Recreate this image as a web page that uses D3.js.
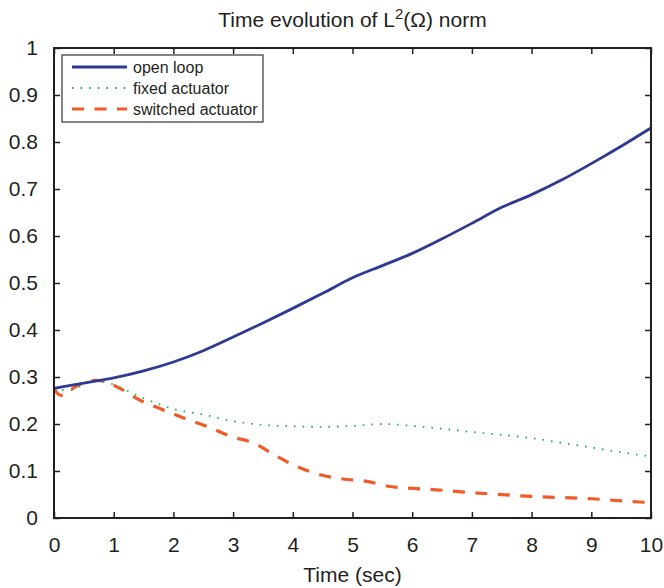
<!DOCTYPE html>
<html>
<head>
<meta charset="utf-8">
<script src="https://cdn.jsdelivr.net/npm/d3@7"></script>
<style>
  body { margin: 0; background: #fff; }
  text { font-family: "Liberation Sans", Arial, sans-serif; fill: #231f20; }
</style>
</head>
<body>
<svg id="chart" width="664" height="588"></svg>
<script>
// values
const openTime = [0, 0.5, 1, 1.5, 2, 2.5, 3, 3.5, 4, 4.5, 5, 5.5, 6, 6.5, 7, 7.5, 8, 8.5, 9, 9.5, 10]
const openLoop = [0.276, 0.287, 0.298, 0.313, 0.332, 0.356, 0.385, 0.415, 0.446, 0.478, 0.511, 0.537, 0.563, 0.594, 0.627, 0.661, 0.688, 0.719, 0.754, 0.791, 0.830]

const fixedTime = [0, 0.15, 0.3, 0.5, 0.7, 0.9, 1.2, 1.5, 2, 2.5, 3, 3.5, 4, 4.5, 5, 5.5, 6, 6.5, 7, 7.5, 8, 8.5, 9, 9.5, 10]
const fixedAct = [0.278, 0.272, 0.272, 0.285, 0.292, 0.288, 0.272, 0.255, 0.232, 0.220, 0.206, 0.198, 0.195, 0.194, 0.196, 0.200, 0.196, 0.190, 0.183, 0.177, 0.170, 0.160, 0.150, 0.140, 0.131]

const switchTime = [0, 0.05, 0.12, 0.2, 0.32, 0.5, 0.72, 0.9, 1.1, 1.45, 1.83, 2.17, 2.56, 3, 3.34, 3.67, 4.06, 4.46, 4.84, 5.24, 5.63, 6.01, 6.4, 7.1, 8, 9, 9.8, 10]
const switchAct = [0.276, 0.266, 0.261, 0.264, 0.276, 0.288, 0.293, 0.288, 0.276, 0.250, 0.230, 0.213, 0.195, 0.172, 0.160, 0.136, 0.110, 0.092, 0.083, 0.078, 0.067, 0.063, 0.060, 0.053, 0.046, 0.041, 0.034, 0.033]

const xTicks = [0, 1, 2, 3, 4, 5, 6, 7, 8, 9, 10]
const yTicks = [0, 0.1, 0.2, 0.3, 0.4, 0.5, 0.6, 0.7, 0.8, 0.9, 1]
const seriesNames = ['open loop', 'fixed actuator', 'switched actuator']

const plotL = 54, plotR = 651, plotT = 48, plotB = 518
const svg = d3.select('#chart')

const x = d3.scaleLinear().domain([0, 10]).range([plotL, plotR])
const y = d3.scaleLinear().domain([0, 1]).range([plotB, plotT])

const series = [
    {name: seriesNames[0], t: openTime, v: openLoop, color: '#2e3a92', width: 2.8, dash: null},
    {name: seriesNames[1], t: fixedTime, v: fixedAct, color: '#1fae6a', width: 1.8, dash: '1.6,7'},
    {name: seriesNames[2], t: switchTime, v: switchAct, color: '#f15a29', width: 3.2, dash: '12,10.5'}
]

const line = d3.line()
    .x(d => x(d[0]))
    .y(d => y(d[1]))
    .curve(d3.curveMonotoneX)

const plot = svg.append('g')
series.slice().reverse().forEach(s => {
    plot.append('path')
        .datum(s.t.map((t, i) => [t, s.v[i]]))
        .attr('d', line)
        .attr('fill', 'none')
        .attr('stroke', s.color)
        .attr('stroke-width', s.width)
        .attr('stroke-dasharray', s.dash)
})

// axes with inward ticks on all four sides
const tickLen = 6
const axisColor = '#231f20'
svg.append('g')
    .attr('transform', `translate(0,${plotB})`)
    .call(d3.axisBottom(x).tickValues(xTicks).tickSize(-tickLen).tickPadding(19).tickFormat(d3.format('d')))
svg.append('g')
    .attr('transform', `translate(0,${plotT})`)
    .call(d3.axisTop(x).tickValues(xTicks).tickSize(-tickLen).tickFormat(''))
svg.append('g')
    .attr('transform', `translate(${plotL},0)`)
    .call(d3.axisLeft(y).tickValues(yTicks).tickSize(-tickLen).tickPadding(16).tickFormat(d => d === 0 || d === 1 ? d3.format('d')(d) : d3.format('.1f')(d)))
svg.append('g')
    .attr('transform', `translate(${plotR},0)`)
    .call(d3.axisRight(y).tickValues(yTicks).tickSize(-tickLen).tickFormat(''))

svg.selectAll('.domain').remove()
svg.selectAll('.tick line').attr('stroke', axisColor).attr('stroke-width', 1.5)
svg.selectAll('.tick text').style('font-size', '21px').style('font-family', '"Liberation Sans", Arial, sans-serif').attr('fill', axisColor)

svg.append('rect')
    .attr('x', plotL).attr('y', plotT)
    .attr('width', plotR - plotL).attr('height', plotB - plotT)
    .attr('fill', 'none')
    .attr('stroke', axisColor)
    .attr('stroke-width', 2)

// title and label
const title = svg.append('text')
    .attr('x', (plotL + plotR) / 2)
    .attr('y', 27)
    .attr('text-anchor', 'middle')
    .style('font-size', '21px')
title.append('tspan').text('Time evolution of L')
title.append('tspan').text('2').attr('dy', -8).style('font-size', '15px')
title.append('tspan').text('(Ω) norm').attr('dy', 8)

svg.append('text')
    .attr('x', (plotL + plotR) / 2)
    .attr('y', 582)
    .attr('text-anchor', 'middle')
    .style('font-size', '21px')
    .text('Time (sec)')

// legend
const legend = svg.append('g')
legend.append('rect')
    .attr('x', 62).attr('y', 55)
    .attr('width', 201).attr('height', 67)
    .attr('fill', '#fff')
    .attr('stroke', '#333')
    .attr('stroke-width', 1.2)
series.forEach((s, i) => {
    const ly = 67 + i * 21
    legend.append('line')
        .attr('x1', 72).attr('x2', 127)
        .attr('y1', ly).attr('y2', ly)
        .attr('stroke', s.color)
        .attr('stroke-width', s.width)
        .attr('stroke-dasharray', s.dash)
    legend.append('text')
        .attr('x', 133).attr('y', ly + 6)
        .style('font-size', '16px')
        .text(s.name)
})
</script>
</body>
</html>
